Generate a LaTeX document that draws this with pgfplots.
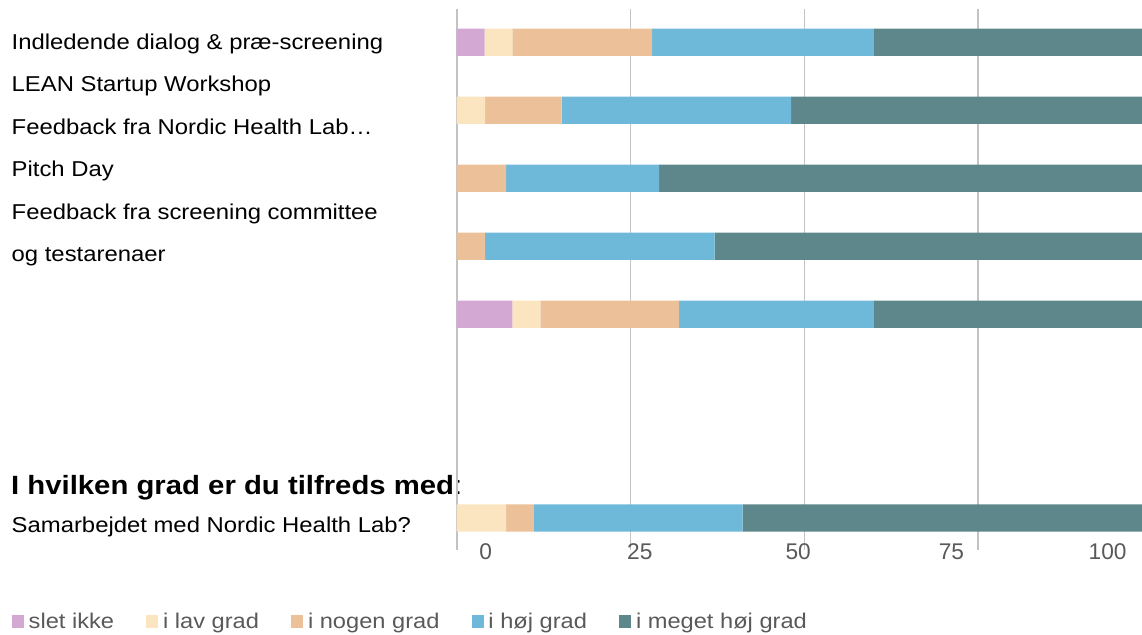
\documentclass[border=0pt]{standalone}
\usepackage{fontspec}
\setmainfont{Liberation Sans}[FakeStretch=1.11]
\newfontfamily\tickfont{Liberation Sans}
\usepackage{pgfplots}
\usepackage{pgfplotstable}
\pgfplotsset{compat=1.18}
\definecolor{cSlet}{RGB}{211,169,211}
\definecolor{cLav}{RGB}{251,228,192}
\definecolor{cNogen}{RGB}{236,193,154}
\definecolor{cHoj}{RGB}{110,184,217}
\definecolor{cMeget}{RGB}{93,135,139}
\definecolor{gridc}{RGB}{195,195,195}
\definecolor{txtgray}{RGB}{89,89,89}

\pgfplotstableread{
y slet lav nogen hoj meget
1 4 4 20.1 31.9 40
2 0 4.1 11 33 51.9
3 0 0 7.1 22 70.9
4 0 0 4.1 33 62.9
5 8 4.05 19.95 28 40
8 0 7.1 4 30 58.9
}\datatable

\pgfplotsset{sqlegend/.style={legend image code/.code={\fill[##1] (0pt,-6.5pt) rectangle (11.7pt,6.8pt);}}}

\begin{document}
\begin{tikzpicture}[x=1pt,y=1pt]
\useasboundingbox (0pt,0pt) rectangle (1142pt,634pt);
\begin{scope}[every node/.style={anchor=base west, inner sep=0pt, font=\fontsize{21.5}{25}\selectfont}]
\node at (11.5pt,584.5pt) {Indledende dialog \& præ-screening};
\node at (11.5pt,542pt) {LEAN Startup Workshop};
\node at (11.5pt,499.5pt) {Feedback fra Nordic Health Lab…};
\node at (11.5pt,457pt) {Pitch Day};
\node at (11.5pt,414.5pt) {Feedback fra screening committee};
\node at (11.5pt,372pt) {og testarenaer};
\node at (11.5pt,101pt) {Samarbejdet med Nordic Health Lab?};
\node[font=\fontsize{26.4}{30}\selectfont] at (11pt,139pt) {{\bfseries I hvilken grad er du tilfreds med}:};
\end{scope}
\begin{axis}[
  at={(456.7pt,84pt)}, anchor=south west, scale only axis,
  width=685.3pt, height=541pt,
  xbar stacked, bar width=0.4,
  y dir=reverse, ymin=0.51, ymax=8.47,
  xmin=0, xmax=98.55,
  axis line style={draw=none},
  ytick=\empty,
  xtick={0,25,50,75}, xticklabels={},
  major tick length=0pt,
  xmajorgrids, grid style={gridc, line width=1.6pt},
  extra x ticks={4.17,26.34,49.1,71.15,93.6},
  extra x tick labels={0,25,50,75,100},
  extra x tick style={grid=none, xticklabel style={anchor=base, yshift=-9pt, text=txtgray, font=\tickfont\fontsize{22.7}{26}\selectfont}},
  clip mode=individual,
  every axis plot post/.append style={sqlegend},
  legend columns=-1,
  legend style={at={(axis description cs:-0.6489,-0.1322)}, anchor=west,
    draw=none, fill=none, inner sep=0pt, outer sep=0pt,
    font=\fontsize{21.3}{24}\selectfont, text=txtgray,
    nodes={inner sep=0pt},
    /tikz/every odd column/.append style={column sep=5pt},
    /tikz/every even column/.append style={column sep=32.3pt}},
]
\addplot[fill=cSlet, draw=none] table[x=slet, y=y] {\datatable};
\addplot[fill=cLav, draw=none] table[x=lav, y=y] {\datatable};
\addplot[fill=cNogen, draw=none] table[x=nogen, y=y] {\datatable};
\addplot[fill=cHoj, draw=none] table[x=hoj, y=y] {\datatable};
\addplot[fill=cMeget, draw=none] table[x=meget, y=y] {\datatable};
\legend{slet ikke, i lav grad, i nogen grad, i høj grad, i meget høj grad}
\end{axis}
\end{tikzpicture}
\end{document}
